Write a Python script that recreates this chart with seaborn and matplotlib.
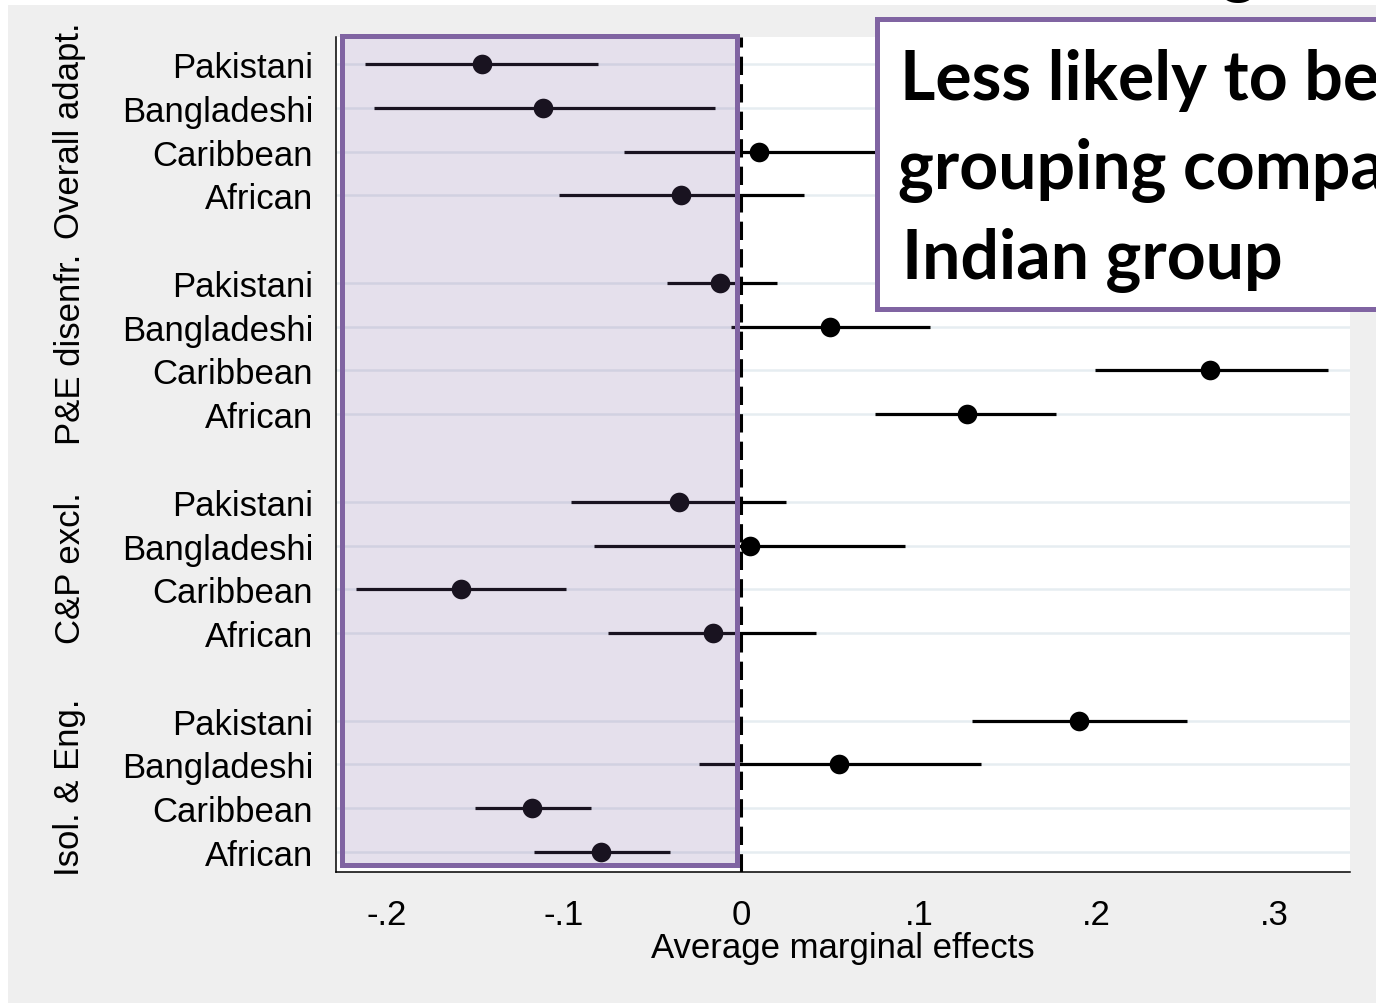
import matplotlib
matplotlib.use("Agg")
import matplotlib.pyplot as plt
from matplotlib.patches import Rectangle
from matplotlib.transforms import blended_transform_factory
import numpy as np
import pandas as pd
import seaborn as sns

# ---- data: average marginal effects with 95% CIs (reference: Indian) ----
outcomes = ["Overall adapt.", "P&E disenfr.", "C&P excl.", "Isol. & Eng."]
ethnicities = ["Pakistani", "Bangladeshi", "Caribbean", "African"]

overall_est = [-0.146, -0.112, 0.010, -0.034]
overall_lo = [-0.212, -0.207, -0.066, -0.103]
overall_hi = [-0.081, -0.015, 0.085, 0.035]

pe_est = [-0.012, 0.050, 0.264, 0.127]
pe_lo = [-0.042, -0.006, 0.199, 0.075]
pe_hi = [0.020, 0.106, 0.330, 0.177]

cp_est = [-0.035, 0.005, -0.158, -0.016]
cp_lo = [-0.096, -0.083, -0.217, -0.075]
cp_hi = [0.025, 0.092, -0.099, 0.042]

ie_est = [0.190, 0.055, -0.118, -0.079]
ie_lo = [0.130, -0.024, -0.150, -0.117]
ie_hi = [0.251, 0.135, -0.085, -0.040]

x_ticks = [-0.2, -0.1, 0.0, 0.1, 0.2, 0.3]
x_ticklabels = ["-.2", "-.1", "0", ".1", ".2", ".3"]

box_lines = ["Less likely to be", "grouping compa", "Indian group"]

# ---- long table, one row per coefficient ----
est = [overall_est, pe_est, cp_est, ie_est]
lo = [overall_lo, pe_lo, cp_lo, ie_lo]
hi = [overall_hi, pe_hi, cp_hi, ie_hi]
records = []
for g, name in enumerate(outcomes):
    for i, eth in enumerate(ethnicities):
        records.append(dict(outcome=name, ethnicity=eth, pos=5 * g + i,
                            est=est[g][i], lo=lo[g][i], hi=hi[g][i]))
df = pd.DataFrame(records)

# ---- style ----
sns.set_style("white")
plt.rcParams["font.family"] = ["Liberation Sans", "DejaVu Sans"]
plt.rcParams.update({"text.color": "black", "axes.labelcolor": "black",
                     "xtick.color": "black", "ytick.color": "black"})

W, H = 1376, 1004
fig = plt.figure(figsize=(W / 100, H / 100), dpi=100, facecolor="white")

# grey graph region
fig.patches.append(Rectangle((8 / W, 0), 1, 1 - 6 / H, transform=fig.transFigure,
                             facecolor="#efefef", edgecolor="none", zorder=-1))

ax = fig.add_axes([336 / W, 1 - 873 / H, (1350 - 336) / W, (873 - 38) / H])
ax.set_facecolor("white")

# row grid lines
for p in df["pos"]:
    ax.axhline(p, color="#e6edf1", lw=1.8, zorder=1)

# zero reference
ax.axvline(0, color="black", lw=2.2, ls=(0, (6, 3)), zorder=2)

# confidence intervals and point estimates
ax.hlines(df["pos"], df["lo"], df["hi"], color="black", lw=2.3, zorder=3)
sns.scatterplot(data=df, x="est", y="pos", ax=ax, color="black", s=200,
                edgecolor="black", linewidth=0, zorder=4, legend=False)

ax.set_xlim(-0.2283, 0.3426)
ax.set_ylim(18.456, -0.617)

ax.set_yticks(df["pos"])
ax.set_yticklabels(df["ethnicity"])
ax.set_xticks(x_ticks)
ax.set_xticklabels(x_ticklabels)
ax.tick_params(axis="y", length=11.5, width=1.1, pad=5, labelsize=25,
               color="black", labelcolor="black")
ax.tick_params(axis="x", length=10, width=1.1, pad=9, labelsize=25,
               color="black", labelcolor="black")
ax.set_xlabel("Average marginal effects", fontsize=25, labelpad=0, color="black")
ax.set_ylabel("")

for side in ["top", "right"]:
    ax.spines[side].set_visible(False)
for side in ["left", "bottom"]:
    ax.spines[side].set_color("black")
    ax.spines[side].set_linewidth(1.1)

# outcome group labels, rotated on the left
trans = blended_transform_factory(fig.transFigure, ax.transData)
for g, name in enumerate(outcomes):
    ax.text(70 / W, 5 * g + 1.5, name, rotation=90, ha="center", va="center",
            fontsize=25, color="black", transform=trans, clip_on=False)

# highlighted region of negative effects
purple = "#8064A2"
ax.add_patch(Rectangle((-0.2247, -0.64), 0.2247 - 0.0028, 18.94,
                       facecolor=(0x80 / 255, 0x64 / 255, 0xA2 / 255, 0.2),
                       edgecolor=purple, lw=3.6, zorder=5, clip_on=False))

# call-out box
fig.patches.append(Rectangle((877 / W, 1 - 310 / H), 700 / W, (310 - 20) / H,
                             transform=fig.transFigure, facecolor="white",
                             edgecolor=purple, lw=3.6, zorder=10))
for txt, x0, base in zip(box_lines, [900, 898, 902], [100, 189, 279]):
    fig.text(x0 / W, 1 - base / H, txt, fontsize=49, fontweight="bold",
             family=["Lato", "DejaVu Sans"], va="baseline", ha="left",
             color="black", zorder=11)

# descender of a heading placed above the figure edge
fig.text(1238 / W, 1 + 11 / H, "g", fontsize=49, fontweight="bold",
         family=["Lato", "DejaVu Sans"], va="baseline", ha="center",
         color="black", zorder=11)

fig.savefig("out.png", dpi=100, facecolor=fig.get_facecolor())
